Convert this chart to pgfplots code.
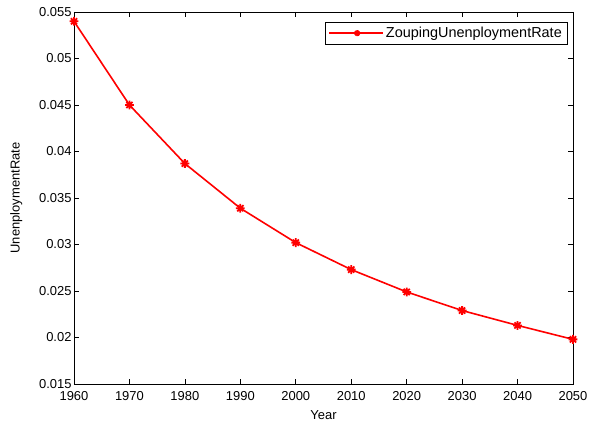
\documentclass[border=0pt]{standalone}
\usepackage{pgfplots}
\pgfplotsset{compat=1.18}
\usepackage{fontspec}
\setmainfont{Liberation Sans}
\pgfdeclareplotmark{mstar}{%
  \pgfpathmoveto{\pgfqpoint{0pt}{\pgfplotmarksize}}\pgfpathlineto{\pgfqpoint{0pt}{-\pgfplotmarksize}}%
  \pgfpathmoveto{\pgfqpoint{\pgfplotmarksize}{0pt}}\pgfpathlineto{\pgfqpoint{-\pgfplotmarksize}{0pt}}%
  \pgfpathmoveto{\pgfqpoint{0.7\pgfplotmarksize}{0.7\pgfplotmarksize}}\pgfpathlineto{\pgfqpoint{-0.7\pgfplotmarksize}{-0.7\pgfplotmarksize}}%
  \pgfpathmoveto{\pgfqpoint{0.7\pgfplotmarksize}{-0.7\pgfplotmarksize}}\pgfpathlineto{\pgfqpoint{-0.7\pgfplotmarksize}{0.7\pgfplotmarksize}}%
  \pgfusepathqstroke}
\begin{document}
\begin{tikzpicture}
\begin{axis}[
  scale only axis,
  width=499bp, height=372bp,
  xmin=1960, xmax=2050, ymin=0.015, ymax=0.055,
  xtick={1960,1970,...,2050},
  ytick={0.015,0.02,0.025,0.03,0.035,0.04,0.045,0.05,0.055},
  yticklabels={0.015,0.02,0.025,0.03,0.035,0.04,0.045,0.05,0.055},
  scaled y ticks=false,
  xticklabel style={/pgf/number format/1000 sep={}},
  /pgf/number format/assume math mode=true,
  tick align=inside,
  major tick length=5bp,
  tick style={black, line width=0.6bp},
  axis line style={line width=0.8bp},
  ticklabel style={font=\fontsize{13}{15}\selectfont},
  xticklabel style={yshift=-4bp},
  yticklabel style={xshift=1bp},
  xlabel={Year}, ylabel={UnenploymentRate},
  label style={font=\fontsize{13}{15}\selectfont},
  xlabel style={yshift=-3bp},
  ylabel style={yshift=10bp},
  legend style={at={(rel axis cs:0.988,0.973)}, anchor=north east,
    font=\fontsize{14.5}{16}\selectfont, draw=black,
    inner xsep=3bp, inner ysep=3bp},
  legend cell align=left,
  clip=false,
]
\addplot[red, line width=1.6bp, mark=mstar, mark size=4.4bp, mark options={line width=1.8bp},
  legend image code/.code={\path (-8bp,0bp) -- (46bp,0bp);
    \draw[red, line width=1.6bp] (0bp,0bp) -- (40bp,0bp);
    \draw[red, line width=1.6bp, mark size=3bp] plot[mark=mstar] coordinates {(20bp,0bp)};}] coordinates {
(1960,0.0540) (1970,0.0450) (1980,0.0387) (1990,0.0339) (2000,0.0302)
(2010,0.0273) (2020,0.0249) (2030,0.0229) (2040,0.0213) (2050,0.0198)
};
\addlegendentry{ZoupingUnenploymentRate}
\path (rel axis cs:0,0) ++(-74bp,-41bp) coordinate (bbA);
\path (rel axis cs:1,1) ++(16bp,12bp) coordinate (bbB);
\end{axis}
\pgfresetboundingbox
\path[use as bounding box] (bbA) rectangle (bbB);
\end{tikzpicture}
\end{document}
